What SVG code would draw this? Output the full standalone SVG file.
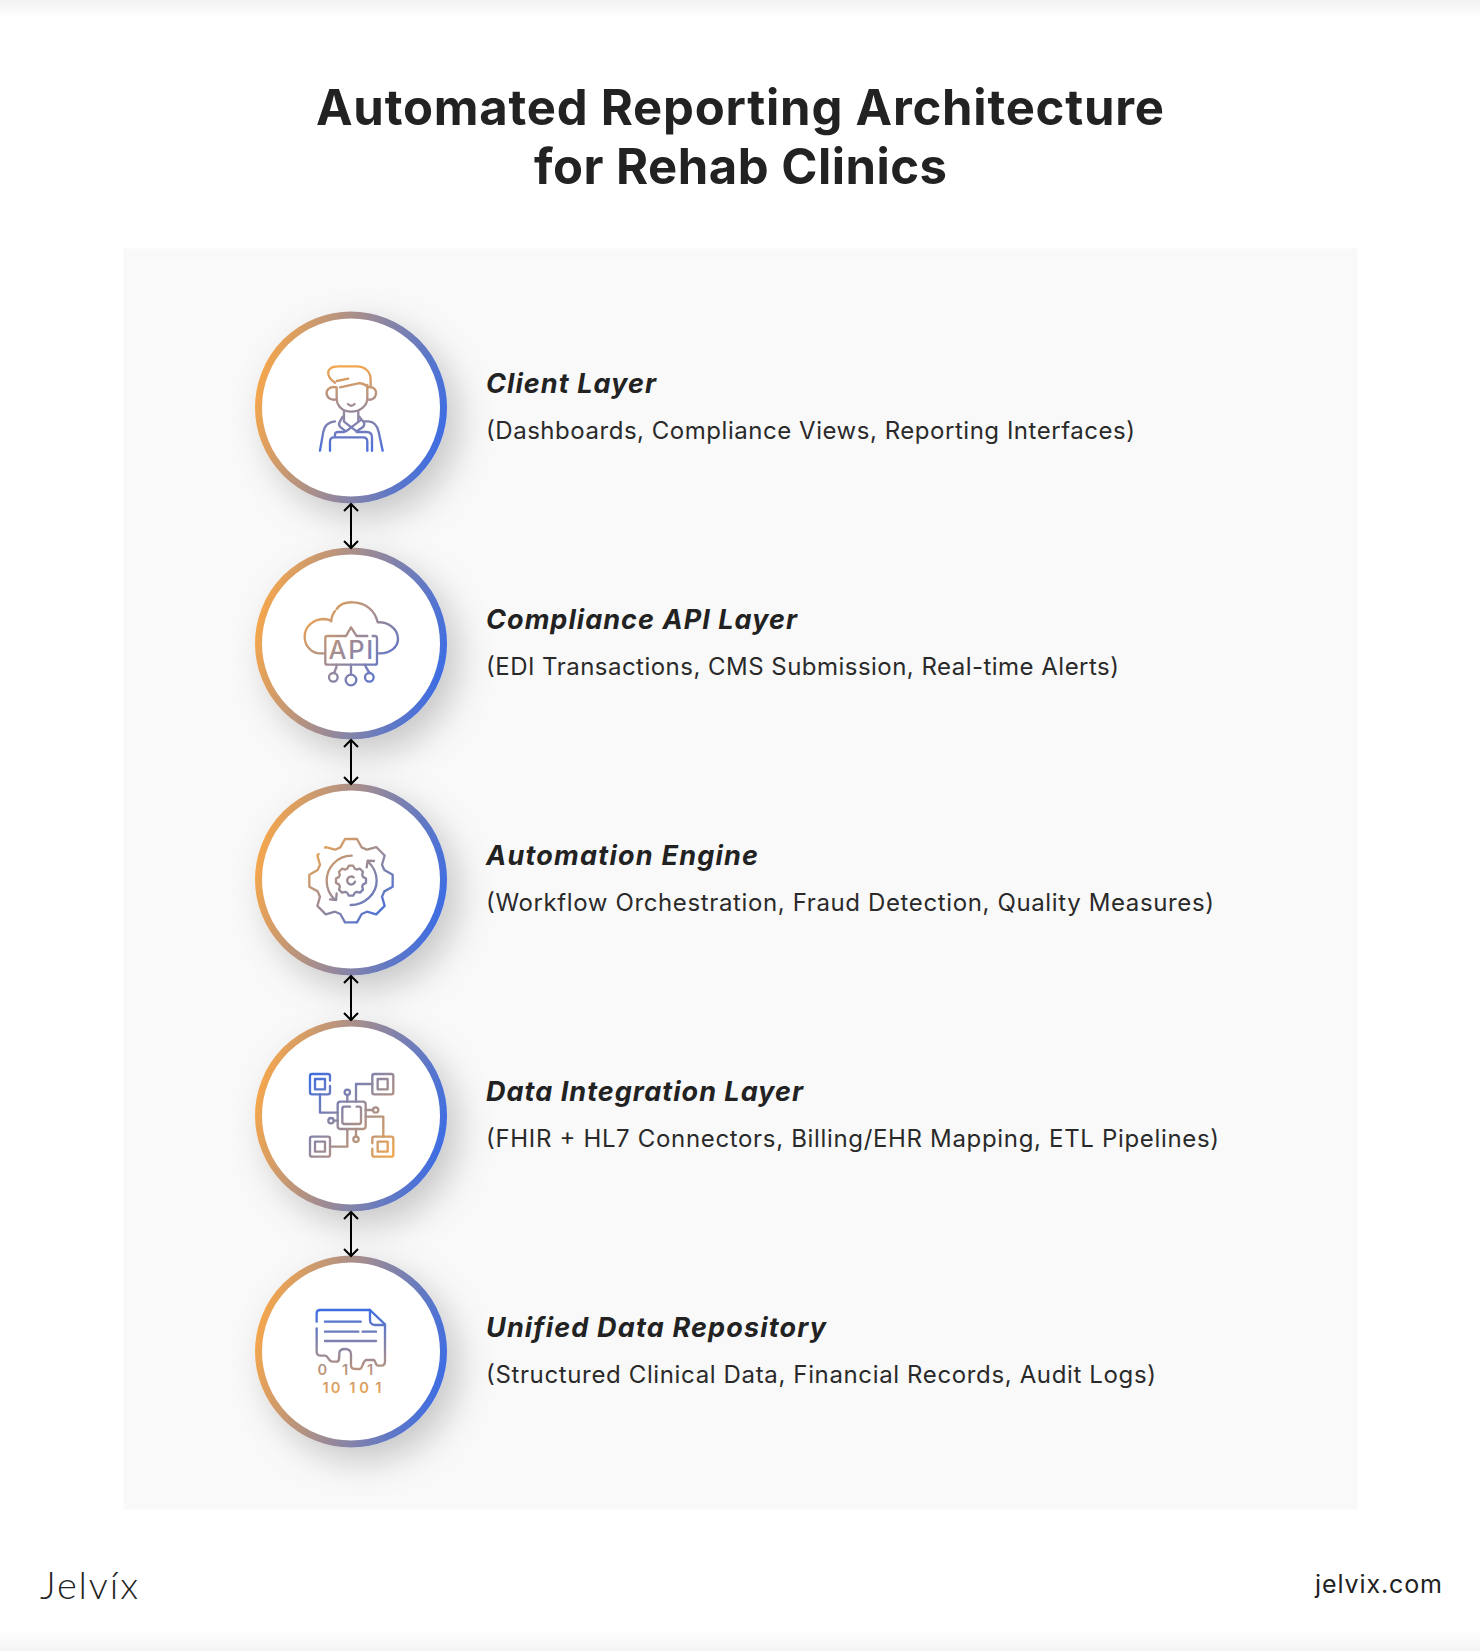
<svg xmlns="http://www.w3.org/2000/svg" width="1480" height="1651" viewBox="0 0 1480 1651">
<defs>
<style>
text{font-family:Inter,"Liberation Sans",sans-serif;fill:#222}
.title{font-size:49px;font-weight:700}
.h{font-size:27px;font-weight:700;font-style:italic}
.s{font-size:24px;font-weight:400;fill:#2a2a2a}
.ring{fill:#fff;stroke:url(#ring);stroke-width:7;filter:url(#sh)}
.ic{fill:none;stroke-width:7;stroke-linecap:round;stroke-linejoin:round}
.d{font-size:44px;font-weight:600;text-anchor:middle;stroke:none;fill:url(#g5)}
.con{stroke:#000;stroke-width:2;fill:none;marker-start:url(#ah);marker-end:url(#ah)}
</style>
<linearGradient id="ring" x1="0" y1=".38" x2="1" y2=".62"><stop offset="0" stop-color="#F2A64E"/><stop offset="1" stop-color="#3E6DE2"/></linearGradient>
<linearGradient id="g1" gradientUnits="userSpaceOnUse" x1="333" y1="198" x2="333" y2="452"><stop offset="0" stop-color="#F2A64E"/><stop offset="1" stop-color="#4A6FDC"/></linearGradient>
<linearGradient id="g2" gradientUnits="userSpaceOnUse" x1="210" y1="200" x2="450" y2="430"><stop offset="0" stop-color="#F2A64E"/><stop offset="1" stop-color="#4A6FDC"/></linearGradient>
<linearGradient id="g3" gradientUnits="userSpaceOnUse" x1="-110" y1="-110" x2="110" y2="110"><stop offset="0" stop-color="#F2A64E"/><stop offset="1" stop-color="#3E6DE2"/></linearGradient>
<linearGradient id="g4" gradientUnits="userSpaceOnUse" x1="75" y1="42" x2="325" y2="290"><stop offset="0" stop-color="#3E6DE2"/><stop offset="1" stop-color="#F2A64E"/></linearGradient>
<linearGradient id="g5" gradientUnits="userSpaceOnUse" x1="165" y1="45" x2="165" y2="310"><stop offset="0" stop-color="#3E6DE2"/><stop offset="1" stop-color="#F2A64E"/></linearGradient>
<linearGradient id="topb" x1="0" y1="0" x2="0" y2="1"><stop offset="0" stop-color="#f2f2f2"/><stop offset="1" stop-color="#fff"/></linearGradient>
<linearGradient id="botb" x1="0" y1="0" x2="0" y2="1"><stop offset="0" stop-color="#fff"/><stop offset="1" stop-color="#f3f3f3"/></linearGradient>
<filter id="sh" x="-40%" y="-40%" width="190%" height="190%"><feDropShadow dx="12" dy="14" stdDeviation="17" flood-color="#000" flood-opacity=".2"/></filter>
<marker id="ah" viewBox="-9 -9 18 18" refX="0" refY="0" markerWidth="18" markerHeight="18" markerUnits="userSpaceOnUse" orient="auto-start-reverse"><path d="M-7,-7 L0,0 L-7,7" fill="none" stroke="#000" stroke-width="2"/></marker>
</defs>
<rect width="1480" height="1651" fill="#fff"/>
<rect width="1480" height="18" fill="url(#topb)"/>
<rect y="1630" width="1480" height="21" fill="url(#botb)"/>
<rect x="123.500" y="248.500" width="1234" height="1261" fill="#f9f9f9"/>
<g id="title"><text class="title" x="316" y="125" textLength="848">Automated Reporting Architecture</text><text class="title" x="534" y="184" textLength="413">for Rehab Clinics</text></g>

<g id="node-client">
<circle class="ring" cx="351" cy="407.500" r="92.500"/>
<g class="ic" stroke="url(#g1)" transform="translate(240 300) scale(.3333)">
<path d="M285,248C265,235 258,215 272,205C278,199 285,199 295,199L350,199C375,199 392,215 392,240L392,262"/>
<path d="M290,243L325,236M300,262L355,250C368,249 376,254 384,262"/>
<path d="M290,262L290,295C290,320 310,335 333,335C360,335 382,318 382,295L382,255"/>
<path d="M288,262C270,258 258,270 260,282C262,295 275,302 290,298M382,262C398,258 410,268 408,282C406,295 395,302 382,298"/>
<path d="M324,312C330,318 338,318 344,312M312,335L312,362M355,335L355,362"/>
<path d="M308,350L298,368C296,373 298,378 302,382L318,394L360,362M358,350L372,368C374,373 372,378 368,382L350,394L312,365"/>
<path d="M240,452L250,395C254,375 265,366 285,364M372,364L385,364C405,365 412,378 416,395L428,452"/>
<path d="M270,452L270,425C270,416 275,412 282,412L370,412C378,412 382,418 382,425L382,452"/>
<path d="M285,410L285,403C285,398 290,396 295,396L312,396M350,396L380,396C390,396 396,402 396,412L396,452"/>
</g>
<text class="h" x="486" y="393" textLength="170">Client Layer</text>
<text class="s" x="486" y="439" textLength="649">(Dashboards, Compliance Views, Reporting Interfaces)</text>
</g>

<g id="node-api">
<circle class="ring" cx="351" cy="643.500" r="92.500"/>
<g class="ic" stroke="url(#g2)" transform="translate(240 540) scale(.3333)">
<path d="M290,207C300,192 320,186 340,187C375,188 405,210 413,247C440,245 472,262 474,295C475,322 450,342 415,340"/>
<path d="M255,340L240,340C215,340 194,318 194,290C194,260 220,238 250,237C262,237 270,240 274,244C274,235 278,222 285,213"/>
<path d="M318,288L262,288Q256,288 256,294L256,368Q256,374 262,374L405,374Q411,374 411,368L411,295Q411,288 405,288L398,288M318,288L333,262L350,288L382,288"/>
<path d="M333,374L333,404M290,374C290,385 285,390 283,398M375,374C378,385 385,392 388,398"/>
<circle cx="333" cy="420" r="16"/><circle cx="280" cy="412" r="13"/><circle cx="388" cy="412" r="13"/>
<text x="335" y="358" text-anchor="middle" font-size="76" font-weight="500" letter-spacing="5" style="fill:url(#g2);stroke:none">API</text>
</g>
<text class="h" x="486" y="629" textLength="311">Compliance API Layer</text>
<text class="s" x="486" y="675" textLength="633">(EDI Transactions, CMS Submission, Real-time Alerts)</text>
</g>

<g id="node-engine">
<circle class="ring" cx="351" cy="879.500" r="92.500"/>
<g class="ic" stroke="url(#g3)" transform="translate(351 880.700) scale(.3333)">
<path d="M-78,-99L-75.600,-101L-48,-93L-32,-100L-18,-125L18,-125L32,-100L48,-93L75.600,-101L101,-75.600L93,-48L100,-32L125,-18L125,18L100,32L93,48L101,75.600L75.600,101L48,93L32,100L18,125L-18,125L-32,100L-48,93L-75.600,101L-101,75.600L-93,48L-100,32L-125,18L-125,-18L-100,-32L-93,-48L-101,-75.600L-97,-80"/>
<path d="M-6.500,-45L6.500,-45L11.500,-36L17,-33.500L27,-36L36,-27L33.500,-17L36,-11.500L45,-6.500L45,6.500L36,11.500L33.500,17L36,27L27,36L17,33.500L11.500,36L6.500,45L-6.500,45L-11.500,36L-17,33.500L-27,36L-36,27L-33.500,17L-36,11.500L-45,6.500L-45,-6.500L-36,-11.500L-33.500,-17L-36,-27L-27,-36L-17,-33.500L-11.500,-36Z"/>
<path d="M8,-10A12,12 0 1 0 12,3"/>
<path d="M2,-75C-43,-75 -73,-37 -73,0C-73,23 -63,43 -48,58M-63,56L-45,58L-43,38"/>
<path d="M-1,73C42,73 77,38 77,0C77,-22 67,-42 52,-57M69,-59L50,-60L47,-40"/>
</g>
<text class="h" x="486" y="865" textLength="272">Automation Engine</text>
<text class="s" x="486" y="911" textLength="728">(Workflow Orchestration, Fraud Detection, Quality Measures)</text>
</g>

<g id="node-integration">
<circle class="ring" cx="351" cy="1115.500" r="92.500"/>
<g class="ic" stroke="url(#g4)" transform="translate(285 1060) scale(.3333)">
<rect x="158" y="125" width="84" height="82" rx="8"/>
<path d="M195,140L178,140Q172,140 172,146L172,186Q172,192 178,192L222,192Q228,192 228,186L228,146Q228,140 222,140L215,140"/>
<path d="M135,62L135,48Q135,42 129,42L81,42Q75,42 75,48L75,97Q75,103 81,103L129,103Q135,103 135,97L135,78"/>
<rect x="90" y="57" width="30" height="31"/>
<rect x="262" y="42" width="63" height="61" rx="6"/><rect x="278" y="57" width="30" height="31"/>
<rect x="75" y="230" width="60" height="60" rx="6"/><rect x="90" y="245" width="30" height="30"/>
<path d="M262,250L262,236Q262,230 268,230L319,230Q325,230 325,236L325,284Q325,290 319,290L268,290Q262,290 262,284L262,266"/>
<rect x="278" y="245" width="30" height="30"/>
<path d="M105,103L105,158L158,158M262,72L213,72L213,125M135,260L187,260L187,207M242,170L295,170L295,230"/>
<path d="M187,105L187,125M242,150L264,150M146,182L158,182M213,207L213,230"/>
<circle cx="187" cy="97" r="8"/><circle cx="272" cy="150" r="8"/><circle cx="138" cy="182" r="8"/><circle cx="213" cy="238" r="8"/>
</g>
<text class="h" x="486" y="1101" textLength="317">Data Integration Layer</text>
<text class="s" x="486" y="1147" textLength="733">(FHIR + HL7 Connectors, Billing/EHR Mapping, ETL Pipelines)</text>
</g>

<g id="node-repository">
<circle class="ring" cx="351" cy="1351.500" r="92.500"/>
<g class="ic" stroke="url(#g5)" transform="translate(295 1295) scale(.3333)">
<path d="M65,100L65,170C65,178 70,182 78,182L90,182C100,182 100,200 112,200L125,200C133,200 133,190 133,175C133,165 140,162 150,162C162,162 168,168 168,178L168,212C168,220 175,222 185,222L195,222C203,222 203,195 215,195L235,195C243,195 240,212 250,212L260,212C268,212 270,205 270,198L270,88L225,45L75,45C68,45 65,50 65,55L65,80"/>
<path d="M225,45L225,75C225,85 232,90 240,90L270,90"/>
<path d="M90,80L197,80M90,110L190,110M203,110L243,110M90,138L243,138"/>
<text class="d" x="82" y="240">0</text><text class="d" x="150" y="240">1</text><text class="d" x="225" y="240">1</text>
<text class="d" x="92" y="294">1</text><text class="d" x="122" y="294">0</text><text class="d" x="172" y="294">1</text><text class="d" x="207" y="294">0</text><text class="d" x="250" y="294">1</text>
</g>
<text class="h" x="486" y="1337" textLength="340">Unified Data Repository</text>
<text class="s" x="486" y="1383" textLength="670">(Structured Clinical Data, Financial Records, Audit Logs)</text>
</g>

<g id="connectors">
<path class="con" d="M351,504L351,548"/>
<path class="con" d="M351,740L351,784"/>
<path class="con" d="M351,976L351,1020"/>
<path class="con" d="M351,1212L351,1256"/>
</g>

<g id="footer">
<text x="40" y="1599" font-size="38" textLength="98" style="font-family:Lato,sans-serif;font-weight:300;fill:#222">Jelvíx</text>
<text x="1315" y="1593" font-size="25" textLength="127" style="font-weight:400">jelvix.com</text>
</g>
</svg>
